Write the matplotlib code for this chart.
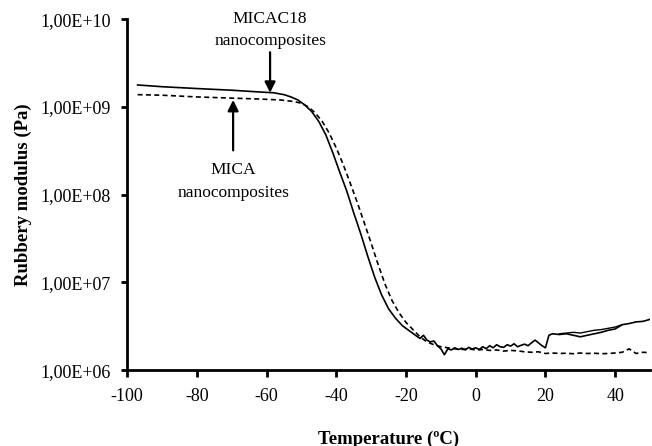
#!/usr/bin/env python3
"""Rubbery modulus vs temperature for MICA / MICAC18 nanocomposites."""

import matplotlib.pyplot as plt
from matplotlib.ticker import FixedLocator, FixedFormatter

plt.rcParams['font.family'] = ['Liberation Serif', 'DejaVu Serif']

# MICAC18 nanocomposites (solid line)
temp_micac18 = [-97, -90, -80, -70, -62, -58, -55, -53, -51, -49, -47, -45, -43, -41,
                -39, -37, -35, -33, -31, -29, -27, -25, -23, -21, -19, -17, -16, -15,
                -14, -13, -12, -11, -10, -9, -8, -7, -6, -5, -4, -3, -2, -1, 0, 1, 2,
                3, 4, 5, 6, 7, 8, 9, 10, 11, 12, 13, 14, 15, 16, 17, 18, 19, 20, 21,
                22, 24, 26, 28, 30, 32, 34, 36, 38, 40, 42, 44, 46, 48, 50]
mod_micac18 = [1.78e9, 1.70e9, 1.62e9, 1.55e9, 1.48e9, 1.45e9, 1.38e9, 1.30e9, 1.20e9,
               1.05e9, 8.8e8, 6.8e8, 4.8e8, 3.0e8, 1.8e8, 1.1e8, 6.2e7, 3.6e7, 2.0e7,
               1.15e7, 7.2e6, 5.0e6, 3.9e6, 3.2e6, 2.8e6, 2.45e6, 2.3e6, 2.5e6, 2.2e6,
               2.1e6, 2.15e6, 1.9e6, 1.75e6, 1.5e6, 1.75e6, 1.7e6, 1.8e6, 1.72e6,
               1.78e6, 1.7e6, 1.82e6, 1.74e6, 1.8e6, 1.72e6, 1.85e6, 1.76e6, 1.9e6,
               1.8e6, 1.95e6, 1.85e6, 1.82e6, 1.95e6, 1.88e6, 2.0e6, 1.85e6, 1.92e6,
               1.98e6, 1.9e6, 2.05e6, 2.2e6, 2.05e6, 1.9e6, 1.8e6, 2.5e6, 2.6e6,
               2.55e6, 2.6e6, 2.5e6, 2.4e6, 2.5e6, 2.6e6, 2.7e6, 2.85e6, 2.95e6,
               3.3e6, 3.4e6, 3.55e6, 3.6e6, 3.8e6]

# second MICAC18 trace on the right-hand side (forms the small loop)
temp_micac18_b = [24, 26, 28, 30, 32, 34, 36, 38, 40, 42]
mod_micac18_b = [2.6e6, 2.65e6, 2.7e6, 2.65e6, 2.75e6, 2.85e6, 2.9e6, 3.0e6, 3.1e6, 3.3e6]

# MICA nanocomposites (dashed line)
temp_mica = [-97, -90, -80, -70, -62, -56, -52, -50, -48, -46, -44, -42, -40, -38, -36,
             -34, -32, -30, -28, -26, -24, -22, -20, -18, -16, -14, -12, -10, -8, -6,
             -4, -2, 0, 2, 4, 6, 8, 10, 12, 14, 16, 18, 20, 22, 24, 26, 28, 30, 32,
             34, 36, 38, 40, 42, 44, 46, 48, 50]
mod_mica = [1.38e9, 1.36e9, 1.30e9, 1.26e9, 1.23e9, 1.20e9, 1.15e9, 1.10e9, 1.0e9,
            8.5e8, 6.8e8, 5.0e8, 3.4e8, 2.2e8, 1.35e8, 8.2e7, 4.8e7, 2.8e7, 1.6e7,
            9.5e6, 6.2e6, 4.5e6, 3.5e6, 2.9e6, 2.4e6, 2.1e6, 1.95e6, 1.85e6, 1.8e6,
            1.75e6, 1.72e6, 1.75e6, 1.7e6, 1.72e6, 1.68e6, 1.7e6, 1.65e6, 1.68e6,
            1.66e6, 1.62e6, 1.6e6, 1.62e6, 1.55e6, 1.57e6, 1.55e6, 1.56e6, 1.54e6,
            1.57e6, 1.55e6, 1.56e6, 1.54e6, 1.55e6, 1.57e6, 1.6e6, 1.75e6, 1.55e6,
            1.6e6, 1.58e6]

x_ticks = [-100, -80, -60, -40, -20, 0, 20, 40]
y_ticks = [1e6, 1e7, 1e8, 1e9, 1e10]
y_tick_labels = ['1,00E+06', '1,00E+07', '1,00E+08', '1,00E+09', '1,00E+10']

fig = plt.figure(figsize=(6.52, 4.46), dpi=100)
ax = fig.add_axes([0.195, 0.170, 0.802, 0.787])

ax.plot(temp_micac18, mod_micac18, color='black', lw=1.2)
ax.plot(temp_micac18_b, mod_micac18_b, color='black', lw=1.0)
ax.plot(temp_mica, mod_mica, color='black', lw=1.2, linestyle=(0, (3, 2)))

ax.set_yscale('log')
ax.set_xlim(-100, 50)
ax.set_ylim(1e6, 1e10)
ax.yaxis.set_major_locator(FixedLocator(y_ticks))
ax.yaxis.set_major_formatter(FixedFormatter(y_tick_labels))
ax.yaxis.set_minor_locator(FixedLocator([]))
ax.set_xticks(x_ticks)
ax.set_xticklabels([str(t) for t in x_ticks])

for side in ['top', 'right']:
    ax.spines[side].set_visible(False)
for side in ['left', 'bottom']:
    ax.spines[side].set_linewidth(2)
ax.tick_params(direction='out', length=5, width=2, labelsize=13, pad=8)
ax.tick_params(axis='y', length=4, pad=8)

ax.set_xlabel('Temperature (ºC)', fontsize=13.5, fontweight='bold', labelpad=18)
ax.set_ylabel('Rubbery modulus (Pa)', fontsize=13.5, fontweight='bold', labelpad=6)

# annotations
arrow = dict(arrowstyle='-|>', lw=1.6, color='black', mutation_scale=16, shrinkA=0, shrinkB=0)
ax.annotate('', xy=(-59, 1.45e9), xytext=(-59, 4.2e9), arrowprops=arrow)
ax.text(-59, 7.6e9, 'MICAC18\nnanocomposites', ha='center', va='center',
        fontsize=12.5, linespacing=1.5)
ax.annotate('', xy=(-69.6, 1.2e9), xytext=(-69.6, 3.2e8), arrowprops=arrow)
ax.text(-69.6, 1.4e8, 'MICA\nnanocomposites', ha='center', va='center',
        fontsize=12.5, linespacing=1.6)

fig.savefig('out.png', dpi=100, facecolor='white')
plt.close(fig)
